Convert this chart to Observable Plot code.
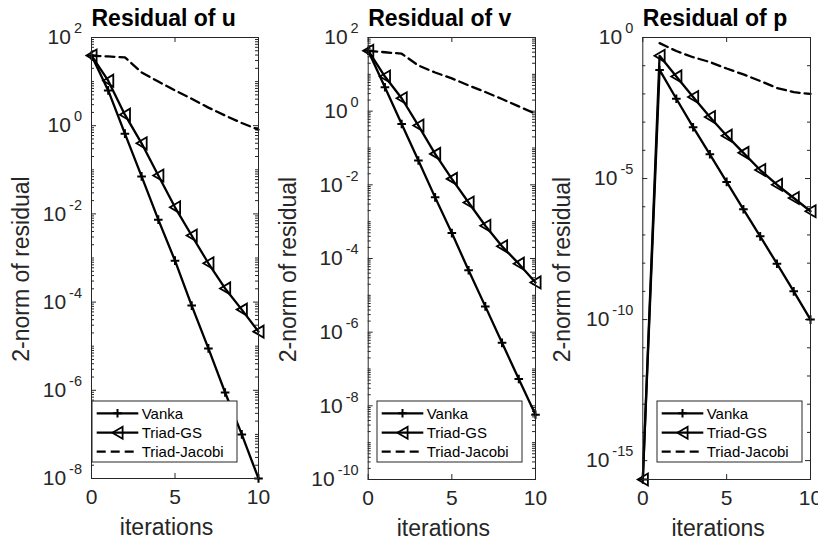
<!DOCTYPE html>
<html><head><meta charset="utf-8">
<script src="https://cdn.jsdelivr.net/npm/d3@7"></script>
<script src="https://cdn.jsdelivr.net/npm/@observablehq/plot@0.6"></script>
<style>
html,body{margin:0;padding:0;background:#fff;}
#chart{position:relative;width:818px;height:542px;overflow:hidden;background:#fff;}
#chart svg{position:absolute;top:0;}
</style></head><body><div id="chart"></div>
<script>
// ---------------- data ----------------
const iterations = [0, 1, 2, 3, 4, 5, 6, 7, 8, 9, 10];
const seriesNames = ["Vanka", "Triad-GS", "Triad-Jacobi"];
const titles = ["Residual of u", "Residual of v", "Residual of p"];
const xTicks = [0, 5, 10];
const yLabel = "2-norm of residual";
const xLabel = "iterations";

const vankaU  = [38.9, 6.31, 0.66, 0.0708, 7.41e-3, 8.71e-4, 8.32e-5, 8.91e-6, 8.91e-7, 1.0e-7, 1.0e-8];
const gsU     = [38.9, 10.5, 1.78, 0.398, 0.0741, 0.0141, 3.24e-3, 7.59e-4, 2.04e-4, 6.76e-5, 2.14e-5];
const jacobiU = [38.9, 37.2, 35.5, 16.2, 10.0, 6.31, 4.07, 2.57, 1.70, 1.15, 0.813];

const vankaV  = [43.7, 4.47, 0.447, 0.0457, 4.57e-3, 4.90e-4, 4.79e-5, 5.01e-6, 5.13e-7, 5.37e-8, 5.75e-9];
const gsV     = [43.7, 8.71, 2.24, 0.407, 0.0692, 0.0145, 3.31e-3, 7.76e-4, 2.14e-4, 7.24e-5, 2.24e-5];
const jacobiV = [43.7, 39.8, 36.3, 17.4, 11.2, 7.76, 5.01, 3.31, 2.14, 1.35, 0.851];

const vankaP  = [2.14e-16, 0.0708, 6.76e-3, 6.61e-4, 7.24e-5, 7.59e-6, 8.13e-7, 8.91e-8, 9.55e-9, 1.0e-9, 1.0e-10];
const gsP     = [2.14e-16, 0.224, 0.0417, 7.76e-3, 1.51e-3, 3.31e-4, 8.13e-5, 2.0e-5, 6.03e-6, 2.04e-6, 6.92e-7];
const jacobiP = [null, 0.631, 0.331, 0.200, 0.135, 0.0794, 0.0490, 0.0288, 0.0162, 0.0115, 0.0100];

const yDomainU = [1e-8, 1e2];
const yDomainV = [1e-10, 1e2];
const yDomainP = [2.14e-16, 1e0];
const yMajorU = [1e2, 1e0, 1e-2, 1e-4, 1e-6, 1e-8];
const yMajorV = [1e2, 1e0, 1e-2, 1e-4, 1e-6, 1e-8, 1e-10];
const yMajorP = [1e0, 1e-5, 1e-10, 1e-15];

// ---------------- style ----------------
const FONT = '"Liberation Sans", Arial, Helvetica, sans-serif';
const AX = "#262626";
const H = 542;

const plusSym = {draw(ctx, size) { const r = Math.sqrt(size / Math.PI);
  ctx.moveTo(-r, 0); ctx.lineTo(r, 0); ctx.moveTo(0, -r); ctx.lineTo(0, r); }};
const triSym = {draw(ctx, size) { const r = Math.sqrt(size / Math.PI);
  ctx.moveTo(-0.85 * r, 0); ctx.lineTo(0.85 * r, -r); ctx.lineTo(0.85 * r, r); ctx.closePath(); }};

function minorTicks(domain, major, sub) {
  const out = [];
  const lo = Math.floor(Math.log10(domain[0])), hi = Math.ceil(Math.log10(domain[1]));
  const majorSet = new Set(major.map(d => Math.round(Math.log10(d) * 1000)));
  for (let k = lo; k <= hi; k++) {
    const ms = sub ? [1,2,3,4,5,6,7,8,9] : [1];
    for (const m of ms) {
      const v = m * Math.pow(10, k);
      if (v < domain[0] * 0.999 || v > domain[1] * 1.001) continue;
      if (m === 1 && majorSet.has(k * 1000)) continue;
      out.push(v);
    }
  }
  return out;
}

const panels = [
  {left: 0,   width: 270, marginLeft: 91,    marginRight: 12, marginBottom: 64, ylabelDx: -70,
   title: titles[0], vanka: vankaU, gs: gsU, jacobi: jacobiU, domain: yDomainU, major: yMajorU, sub: true,
   legendDx: 1, legendDy: 16},
  {left: 270, width: 272, marginLeft: 97.7,  marginRight: 7,  marginBottom: 63, ylabelDx: -80,
   title: titles[1], vanka: vankaV, gs: gsV, jacobi: jacobiV, domain: yDomainV, major: yMajorV, sub: true,
   legendDx: 9.3, legendDy: 17},
  {left: 542, width: 276, marginLeft: 100.3, marginRight: 8,  marginBottom: 63, ylabelDx: -80,
   title: titles[2], vanka: vankaP, gs: gsP, jacobi: jacobiP, domain: yDomainP, major: yMajorP, sub: false,
   legendDx: 14.7, legendDy: 17}
];

function legendMark(cfg) {
  return (index, scales, values, dims) => {
    const g = d3.create("svg:g");
    const bw = 145, bh = 61;
    const bx = dims.marginLeft + cfg.legendDx;
    const by = dims.height - dims.marginBottom - cfg.legendDy - bh;
    g.append("rect").attr("x", bx).attr("y", by).attr("width", bw).attr("height", bh)
      .attr("fill", "#fff").attr("stroke", AX).attr("stroke-width", 1);
    const rowY = [12.3, 31.7, 50.7];
    const syms = [plusSym, triSym, null];
    seriesNames.forEach((name, i) => {
      const y = by + rowY[i];
      const ln = g.append("line").attr("x1", bx + 4.7).attr("x2", bx + 46.3).attr("y1", y).attr("y2", y)
        .attr("stroke", "#000").attr("stroke-width", 2.3);
      if (i === 2) ln.attr("stroke-dasharray", "9,5");
      if (syms[i]) {
        const p = d3.path();
        const r = i === 0 ? 4.3 : 6;
        syms[i].draw(p, r * r * Math.PI);
        g.append("path").attr("d", p.toString()).attr("transform", `translate(${bx + 25.5},${y})`)
          .attr("fill", "none").attr("stroke", "#000").attr("stroke-width", i === 0 ? 2 : 1.8);
      }
      g.append("text").attr("x", bx + 49.7).attr("y", y).attr("dy", "0.35em")
        .attr("text-anchor", "start")
        .attr("font-size", 15).attr("font-family", FONT).attr("fill", "#000").text(name);
    });
    return g.node();
  };
}

const chart = document.getElementById("chart");
panels.forEach(cfg => {
  const rows = iterations.map((it, i) => ({it, vanka: cfg.vanka[i], gs: cfg.gs[i], jacobi: cfg.jacobi[i]}));
  const fw = cfg.width - cfg.marginLeft - cfg.marginRight;
  const fh = H - 37 - cfg.marginBottom;
  const minor = minorTicks(cfg.domain, cfg.major, cfg.sub);
  const svg = Plot.plot({
    width: cfg.width, height: H,
    marginLeft: cfg.marginLeft, marginRight: cfg.marginRight, marginTop: 37, marginBottom: cfg.marginBottom,
    style: {background: "transparent", overflow: "visible", fontFamily: FONT, color: AX},
    x: {domain: [0, 10]},
    y: {type: "log", domain: cfg.domain},
    marks: [
      Plot.tickY(cfg.major, {y: d => d, stroke: AX, insetRight: fw - 5}),
      Plot.tickY(cfg.major, {y: d => d, stroke: AX, insetLeft: fw - 5}),
      Plot.tickY(minor, {y: d => d, stroke: AX, insetRight: fw - 3}),
      Plot.tickY(minor, {y: d => d, stroke: AX, insetLeft: fw - 3}),
      Plot.tickX(xTicks, {x: d => d, stroke: AX, insetTop: fh - 5}),
      Plot.tickX(xTicks, {x: d => d, stroke: AX, insetBottom: fh - 5}),
      Plot.axisY({ticks: cfg.major, tickFormat: d => "10^" + Math.round(Math.log10(d)), tickSize: 0,
        tickPadding: 9.5, fontSize: 21, fill: AX, label: null}),
      Plot.axisX({ticks: xTicks, tickFormat: d => String(d), tickSize: 0, tickPadding: 11,
        fontSize: 21, fill: AX, label: null}),
      Plot.text([cfg.title], {text: d => d, frameAnchor: "top-left", textAnchor: "start", lineAnchor: "middle",
        dy: -18.4, fontSize: 23, fontWeight: "bold", fill: "#000"}),
      Plot.text([yLabel], {text: d => d, frameAnchor: "left", textAnchor: "middle", lineAnchor: "middle",
        rotate: -90, dx: cfg.ylabelDx, dy: 11, fontSize: 23, fill: AX}),
      Plot.text([xLabel], {text: d => d, frameAnchor: "bottom", textAnchor: "middle", lineAnchor: "middle",
        dx: -8.5, dy: 49, fontSize: 23, fill: AX}),
      Plot.line(rows, {x: "it", y: "vanka", stroke: "#000", strokeWidth: 2.3}),
      Plot.dot(rows, {x: "it", y: "vanka", symbol: plusSym, r: 4.3, stroke: "#000", strokeWidth: 2, fill: "none"}),
      Plot.line(rows, {x: "it", y: "gs", stroke: "#000", strokeWidth: 2.3}),
      Plot.dot(rows, {x: "it", y: "gs", symbol: triSym, r: 6, stroke: "#000", strokeWidth: 1.8, fill: "none"}),
      Plot.line(rows, {x: "it", y: "jacobi", stroke: "#000", strokeWidth: 2.3, strokeDasharray: "9,5"}),
      Plot.frame({stroke: AX, strokeWidth: 1}),
      legendMark(cfg)
    ]
  });
  svg.style.left = cfg.left + "px";
  // superscript exponents in y tick labels
  svg.querySelectorAll('g[aria-label="y-axis tick label"] text').forEach(t => {
    const parts = t.textContent.split("^");
    if (parts.length !== 2) return;
    t.textContent = parts[0];
    const ts = document.createElementNS("http://www.w3.org/2000/svg", "tspan");
    ts.setAttribute("dx", "3");
    ts.setAttribute("dy", "-11");
    ts.setAttribute("font-size", "14.5");
    ts.textContent = parts[1];
    t.appendChild(ts);
  });
  chart.appendChild(svg);
});
</script></body></html>
